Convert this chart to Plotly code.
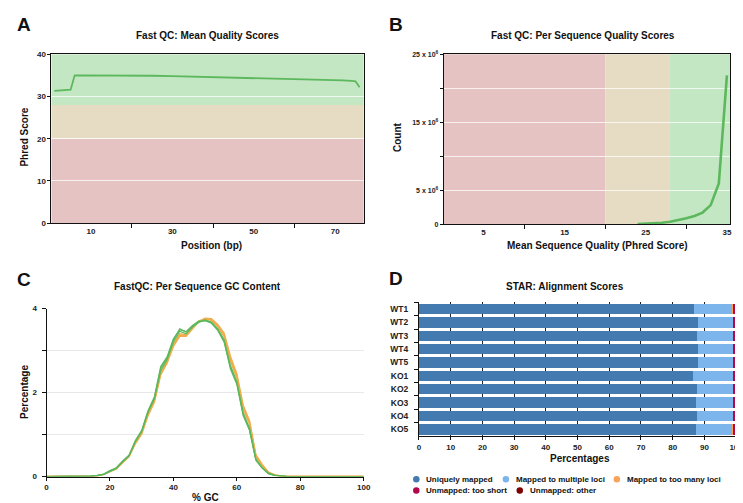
import plotly.graph_objects as go

# ---------------- data ----------------
# Panel A: Fast QC mean quality scores
pos_bp = [1, 2, 3, 4, 5, 6, 7, 8, 9, 10, 12, 14, 16, 18, 20, 25, 30, 35, 40, 45, 50, 55, 60, 65, 70, 72, 74, 75, 76]
phred_mean = [31.3, 31.4, 31.4, 31.5, 31.6, 35.0, 35.0, 35.0, 34.9, 34.9, 35.0, 35.0, 35.0, 35.0, 35.0, 34.9,
              34.8, 34.7, 34.6, 34.5, 34.4, 34.3, 34.2, 34.0, 33.9, 33.8, 33.7, 33.6, 32.2]

# Panel B: per sequence quality scores
seq_quality = [24, 25, 26, 27, 28, 29, 30, 31, 32, 33, 34, 35]
seq_count = [10000, 40000, 100000, 200000, 350000, 550000, 850000, 1200000, 1700000, 2800000, 6000000, 21900000]

# Panel C: per sequence GC content
gc_pct = [0, 10, 14, 16, 18, 20, 22, 24, 26, 28, 30, 32, 34, 36, 38, 40, 42, 44, 46, 48, 50, 52, 54, 56, 58,
          60, 62, 64, 66, 68, 70, 72, 74, 76, 100]
gc_orange_1 = [0, 0, 0.01, 0.02, 0.05, 0.12, 0.19, 0.34, 0.48, 0.80, 1.03, 1.48, 1.80, 2.45, 2.72, 3.12, 3.36, 3.36,
               3.54, 3.70, 3.76, 3.74, 3.60, 3.38, 2.80, 2.40, 1.66, 1.30, 0.50, 0.27, 0.10, 0.04, 0.01, 0, 0]
gc_orange_2 = [0, 0, 0.01, 0.02, 0.05, 0.12, 0.18, 0.33, 0.47, 0.78, 1.01, 1.45, 1.77, 2.42, 2.70, 3.10, 3.34, 3.34,
               3.52, 3.69, 3.77, 3.76, 3.62, 3.42, 2.86, 2.45, 1.70, 1.33, 0.52, 0.29, 0.10, 0.04, 0.01, 0, 0]
gc_orange_3 = [0, 0, 0.01, 0.02, 0.05, 0.13, 0.19, 0.35, 0.49, 0.82, 1.05, 1.50, 1.82, 2.48, 2.75, 3.15, 3.40, 3.38,
               3.55, 3.69, 3.75, 3.72, 3.57, 3.33, 2.74, 2.35, 1.60, 1.25, 0.47, 0.25, 0.09, 0.03, 0.01, 0, 0]
gc_green_1 = [0, 0, 0.01, 0.02, 0.05, 0.13, 0.20, 0.36, 0.50, 0.84, 1.08, 1.55, 1.87, 2.58, 2.82, 3.25, 3.52, 3.44,
              3.58, 3.68, 3.72, 3.67, 3.50, 3.22, 2.60, 2.22, 1.48, 1.12, 0.40, 0.20, 0.07, 0.03, 0.01, 0, 0]
gc_green_2 = [0, 0, 0.01, 0.02, 0.05, 0.12, 0.19, 0.35, 0.49, 0.83, 1.07, 1.53, 1.85, 2.52, 2.78, 3.20, 3.46, 3.40,
              3.56, 3.67, 3.73, 3.68, 3.52, 3.26, 2.64, 2.26, 1.52, 1.15, 0.42, 0.21, 0.08, 0.03, 0.01, 0, 0]
gc_green_3 = [0, 0, 0.01, 0.03, 0.06, 0.14, 0.21, 0.37, 0.51, 0.86, 1.10, 1.57, 1.90, 2.62, 2.85, 3.28, 3.50, 3.45,
              3.60, 3.70, 3.71, 3.65, 3.48, 3.20, 2.56, 2.20, 1.45, 1.10, 0.39, 0.20, 0.07, 0.02, 0.01, 0, 0]

# Panel D: STAR alignment scores (%)
samples = ["WT1", "WT2", "WT3", "WT4", "WT5", "KO1", "KO2", "KO3", "KO4", "KO5"]
uniquely_mapped = [86.6, 88.1, 87.6, 88.0, 88.0, 86.4, 87.8, 87.5, 87.6, 87.2]
multiple_loci = [12.3, 11.1, 11.6, 11.2, 11.2, 12.8, 11.4, 11.7, 11.6, 11.8]
too_many_loci = [0.3, 0.1, 0.1, 0.1, 0.1, 0.1, 0.1, 0.1, 0.1, 0.3]
unmapped_short = [0.6, 0.5, 0.5, 0.5, 0.5, 0.5, 0.5, 0.5, 0.5, 0.5]
unmapped_other = [0.2, 0.2, 0.2, 0.2, 0.2, 0.2, 0.2, 0.2, 0.2, 0.2]
star_names = ["Uniquely mapped", "Mapped to multiple loci", "Mapped to too many loci",
              "Unmapped: too short", "Unmapped: other"]

# ---------------- styling ----------------
W, H = 743, 503
FONT = "Liberation Sans, Arial, Helvetica, sans-serif"
GREEN_LINE = "#5cb85c"
ORANGE_LINE = "#f0ad4e"
BAND_RED = "#e6c3c3"
BAND_ORANGE = "#e6dcc3"
BAND_GREEN = "#c3e6c3"
STAR_COLORS = ["#437bb1", "#7cb5ec", "#f7a35c", "#b1084c", "#7f0000"]
AXC = "#111111"


def fx(p):
    return p / W


def fy(p):
    return 1 - p / H


tickfont = dict(family=FONT, size=8, color="#222222", weight="bold")

fig = go.Figure()

# A
fig.add_trace(go.Scatter(x=pos_bp, y=phred_mean, mode="lines", line=dict(color=GREEN_LINE, width=1.8),
                         xaxis="x", yaxis="y", showlegend=False, hoverinfo="skip"))
# B
fig.add_trace(go.Scatter(x=seq_quality, y=seq_count, mode="lines", line=dict(color=GREEN_LINE, width=2.6),
                         xaxis="x2", yaxis="y2", showlegend=False, hoverinfo="skip"))
# C
for ys in [gc_orange_1, gc_orange_2, gc_orange_3]:
    fig.add_trace(go.Scatter(x=gc_pct, y=ys, mode="lines", line=dict(color=ORANGE_LINE, width=1.4),
                             xaxis="x3", yaxis="y3", showlegend=False, hoverinfo="skip"))
for ys in [gc_green_1, gc_green_2, gc_green_3]:
    fig.add_trace(go.Scatter(x=gc_pct, y=ys, mode="lines", line=dict(color=GREEN_LINE, width=1.2),
                             xaxis="x3", yaxis="y3", showlegend=False, hoverinfo="skip"))
# D
star_series = [uniquely_mapped, multiple_loci, too_many_loci, unmapped_short, unmapped_other]
for name, vals, col in zip(star_names, star_series, STAR_COLORS):
    fig.add_trace(go.Bar(y=samples, x=vals, name=name, orientation="h", marker=dict(color=col, line=dict(width=0)),
                         xaxis="x4", yaxis="y4", showlegend=False))

frame = dict(showline=True, mirror=True, linecolor=AXC, linewidth=1, zeroline=False, tickfont=tickfont,
             tickcolor=AXC)

layout = dict(
    width=W, height=H, autosize=False, margin=dict(l=0, r=0, t=0, b=0),
    paper_bgcolor="white", plot_bgcolor="white",
    font=dict(family=FONT, color="#222222"),
    barmode="stack", bargap=0.22,
    xaxis=dict(domain=[fx(42), fx(358)], anchor="y", range=[0.3, 77], tickvals=[10, 30, 50, 70], ticks="",
               showgrid=False,
               minor=dict(tickvals=[20, 40, 60], ticks="outside", ticklen=4, tickcolor=AXC, showgrid=False),
               **frame),
    yaxis=dict(domain=[fy(215), fy(43)], anchor="x", range=[0, 40], tickvals=[0, 10, 20, 30, 40],
               ticks="outside", ticklen=3, showgrid=True, gridcolor="rgba(255,255,255,0.75)", gridwidth=1,
               **frame),
    xaxis2=dict(domain=[fx(439), fx(729)], anchor="y2", range=[0.1, 35.4], tickvals=[5, 15, 25, 35], ticks="",
                showgrid=False,
                minor=dict(tickvals=[10, 20, 30], ticks="outside", ticklen=4, tickcolor=AXC, showgrid=False),
                **frame),
    yaxis2=dict(domain=[fy(216), fy(43)], anchor="x2", range=[0, 25e6],
                tickvals=[0, 5e6, 15e6, 25e6],
                ticktext=["0", "5 x 10<sup>6</sup>", "15 x 10<sup>6</sup>", "25 x 10<sup>6</sup>"],
                ticks="outside", ticklen=3, showgrid=True, gridcolor="rgba(255,255,255,0.75)",
                minor=dict(tickvals=[10e6, 20e6], ticks="outside", ticklen=3, tickcolor=AXC, showgrid=True,
                           gridcolor="rgba(255,255,255,0.75)"),
                **{**frame, "tickfont": dict(family=FONT, size=7, color="#222222", weight="bold")}),
    xaxis3=dict(domain=[fx(37), fx(358)], anchor="y3", range=[0, 100], tickvals=[0, 20, 40, 60, 80, 100],
                ticks="outside", ticklen=3, tickcolor=AXC, showgrid=False, showline=True, linecolor=AXC,
                linewidth=1, zeroline=False, tickfont=tickfont),
    yaxis3=dict(domain=[fy(473), fy(302)], anchor="x3", range=[0, 4], tickvals=[0, 2, 4],
                ticks="outside", ticklen=4, tickcolor=AXC, showgrid=True,
                gridcolor="#e8e8e8", showline=True, linecolor=AXC, linewidth=1, zeroline=False,
                minor=dict(tickvals=[1, 3], ticks="outside", ticklen=4, tickcolor=AXC, showgrid=True,
                           gridcolor="#e8e8e8"),
                ticklabelstandoff=3, tickfont=tickfont),
    xaxis4=dict(domain=[fx(414), fx(735)], anchor="y4", range=[0, 100], tick0=0, dtick=10, ticks="outside",
                ticklen=3, tickcolor=AXC, showgrid=True, gridcolor="#222222", gridwidth=1, showline=True,
                linecolor=AXC, linewidth=1, zeroline=False, tickfont=tickfont),
    yaxis4=dict(domain=[fy(431.7), fy(295.7)], anchor="x4", type="category", categoryorder="array",
                categoryarray=samples, autorange="reversed", tickson="boundaries", ticks="outside", ticklen=4,
                tickcolor=AXC, showgrid=False, showline=True, linecolor=AXC, linewidth=1,
                ticklabelstandoff=8,
                tickfont=dict(family=FONT, size=8.5, color="#222222", weight="bold")),
)
fig.update_layout(**layout)

# Quality bands
bands = [(0, 20, BAND_RED), (20, 28, BAND_ORANGE), (28, 40, BAND_GREEN)]
for y0, y1, col in bands:
    fig.add_shape(type="rect", xref="x domain", yref="y", x0=0, x1=1, y0=y0, y1=y1, fillcolor=col,
                  line=dict(width=0), layer="below")
bands_b = [(0, 20, BAND_RED), (20, 28, BAND_ORANGE), (28, 36, BAND_GREEN)]
for x0, x1, col in bands_b:
    fig.add_shape(type="rect", xref="x2", yref="y2 domain", x0=x0, x1=min(x1, 35.4), y0=0, y1=1, fillcolor=col,
                  line=dict(width=0), layer="below")


def ann(text, x, y, size, angle=0, xanchor="center"):
    fig.add_annotation(text=text, x=fx(x), y=fy(y), xref="paper", yref="paper", showarrow=False,
                       xanchor=xanchor, yanchor="middle", textangle=angle,
                       font=dict(family=FONT, size=size, color="#111111", weight="bold"))


# panel letters
ann("A", 14, 13, 19)
ann("B", 391, 13, 19)
ann("C", 14, 272, 19)
ann("D", 391, 271, 19)
# titles
ann("Fast QC: Mean Quality Scores", 200, 24, 10)
ann("Fast QC: Per Sequence Quality Scores", 580, 24, 10)
ann("FastQC: Per Sequence GC Content", 190, 280, 10)
ann("STAR: Alignment Scores", 562, 279, 10)
# axis titles
ann("Position (bp)", 204, 238, 10)
ann("Phred Score", 15, 127, 10, angle=-90)
ann("Mean Sequence Quality (Phred Score)", 595, 238, 10)
ann("Count", 392, 127, 10, angle=-90)
ann("% GC", 198, 494, 10)
ann("Percentage", 14, 387, 10, angle=-90)
ann("Percentages", 577, 455, 10)

# custom legend for panel D
legend_pos = [(411.3, 475.7), (502, 475.7), (614.3, 475.7), (411.3, 487.3), (516, 487.3)]
for (lx, ly), name, col in zip(legend_pos, star_names, STAR_COLORS):
    r = 3.3
    fig.add_shape(type="circle", xref="paper", yref="paper", x0=fx(lx - r), x1=fx(lx + r), y0=fy(ly + r),
                  y1=fy(ly - r), fillcolor=col, line=dict(width=0))
    fig.add_annotation(text=name, x=fx(lx + 8), y=fy(ly), xref="paper", yref="paper", showarrow=False,
                       xanchor="left", yanchor="middle",
                       font=dict(family=FONT, size=8, color="#111111", weight="bold"))

fig.write_html("out.html")
